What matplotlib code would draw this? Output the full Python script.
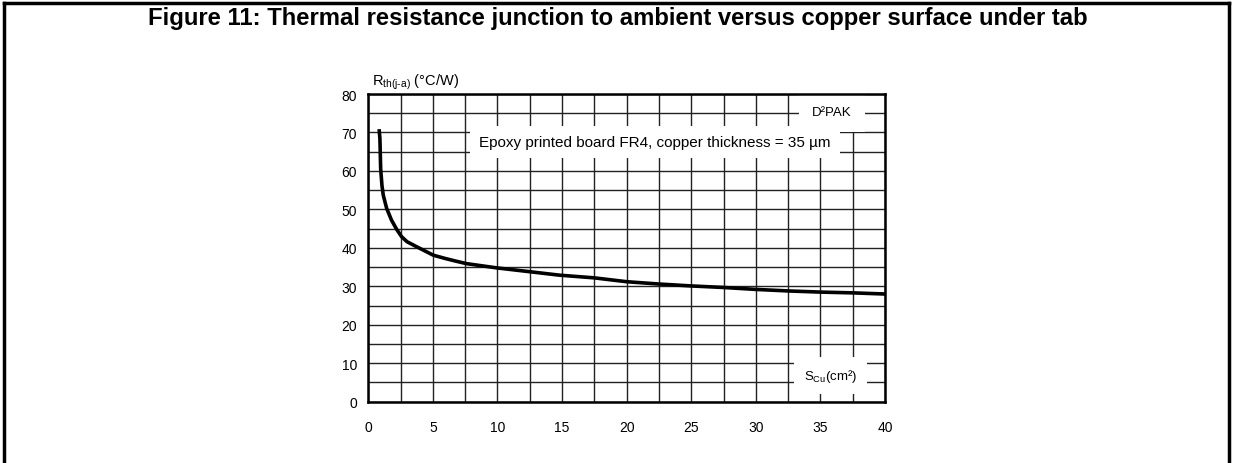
import numpy as np
import matplotlib
matplotlib.use("Agg")
from matplotlib import pyplot as plt
from matplotlib.lines import Line2D

plt.rcParams['font.family'] = ['Liberation Sans', 'DejaVu Sans']
plt.rcParams['mathtext.fontset'] = 'custom'
plt.rcParams['mathtext.rm'] = 'Liberation Sans'
plt.rcParams['mathtext.it'] = 'Liberation Sans'

# Rth(j-a) vs copper surface
s_cu = [0.85, 0.9, 0.96, 1.06, 1.16, 1.42, 1.8, 2.2, 2.58, 3.0, 3.74, 5.03,
        6.0, 6.84, 7.6, 9.93, 12.5, 14.8, 17.5, 20, 22.5, 25, 27.5, 30,
        32.5, 35, 37.5, 40]
rth = [70.4, 68.4, 60.5, 56.2, 53.7, 50.3, 47.2, 44.8, 42.9, 41.6, 40.3, 38.1,
       37.2, 36.5, 35.9, 34.8, 33.8, 32.9, 32.2, 31.2, 30.6, 30.1, 29.7, 29.2,
       28.8, 28.5, 28.3, 28.0]

x_ticks = [0, 5, 10, 15, 20, 25, 30, 35, 40]
y_ticks = [0, 10, 20, 30, 40, 50, 60, 70, 80]

fig = plt.figure(figsize=(12.35, 4.64), dpi=100)
ax = fig.add_axes([0.2982, 0.1321, 0.4184, 0.6631])

ax.plot(s_cu, rth, color="black", linewidth=2.6, zorder=3)

ax.set_xlim(0, 40)
ax.set_ylim(0, 80)
ax.set_xticks(x_ticks)
ax.set_yticks(y_ticks)
ax.set_xticks(np.arange(0, 40.1, 2.5), minor=True)
ax.set_yticks(np.arange(0, 80.1, 5), minor=True)
ax.grid(True, which="both", color="#222222", linewidth=1.0)
ax.set_axisbelow(True)
ax.tick_params(which="both", length=0)
ax.tick_params(axis="x", pad=13, labelsize=10)
ax.tick_params(axis="y", pad=8, labelsize=10)
for sp in ax.spines.values():
    sp.set_linewidth(1.8)

# white label boxes break the grid but sit under the frame
ax.text(22.2, 67.6, "Epoxy printed board FR4, copper thickness = 35 µm",
        ha="center", va="center", fontsize=11, zorder=2.2,
        bbox=dict(facecolor="white", edgecolor="none", boxstyle="square,pad=0.6"))
ax.text(35.9, 75.2, "D²PAK", ha="center", va="center", fontsize=9.5, zorder=2.2,
        bbox=dict(facecolor="white", edgecolor="none", boxstyle="square,pad=1.0"))
ax.text(35.8, 6.8, r"S$_{\mathrm{Cu}}$(cm²)", ha="center", va="center",
        fontsize=9.5, zorder=2.2,
        bbox=dict(facecolor="white", edgecolor="none", boxstyle="square,pad=0.75"))
ax.text(0.3, 80.8, r"R$_{\mathrm{th(j\text{-}a)}}$ (°C/W)", ha="left",
        va="bottom", fontsize=10.5)

fig.text(0.5, 1 - 25 / 464, "Figure 11: Thermal resistance junction to ambient versus copper surface under tab",
         ha="center", va="baseline", fontsize=17.2, fontweight="bold")

# outer frame (open at the bottom)
fx0, fx1, fy1 = 4 / 1235, 1229 / 1235, 1 - 4 / 464
for xs, ys in [([fx0, fx0], [0, fy1]), ([fx0, fx1], [fy1, fy1]), ([fx1, fx1], [fy1, 0])]:
    fig.add_artist(Line2D(xs, ys, transform=fig.transFigure, color="black", linewidth=2.5))

fig.savefig("out.png", dpi=100)
